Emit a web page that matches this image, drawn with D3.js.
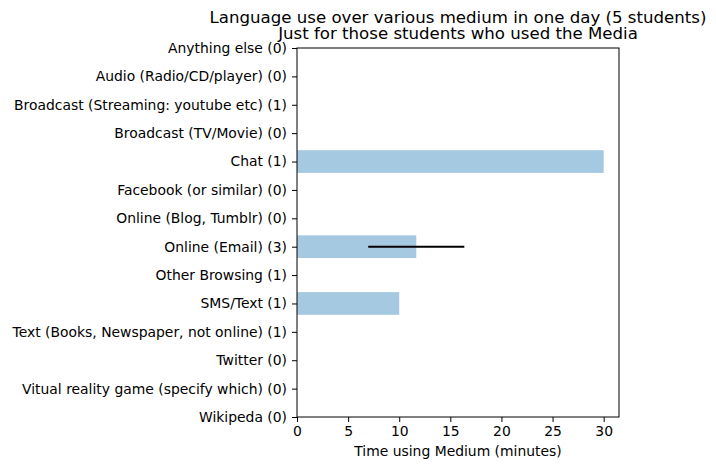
<!DOCTYPE html>
<html>
<head>
<meta charset="utf-8">
<script src="https://cdn.jsdelivr.net/npm/d3@7"></script>
<style>
  body { margin: 0; background: #fff; }
  text { font-family: "DejaVu Sans", sans-serif; fill: #000; }
</style>
</head>
<body>
<div id="chart"></div>
<script>
const categories = [
  "Anything else (0)",
  "Audio (Radio/CD/player) (0)",
  "Broadcast (Streaming: youtube etc) (1)",
  "Broadcast (TV/Movie) (0)",
  "Chat (1)",
  "Facebook (or similar) (0)",
  "Online (Blog, Tumblr) (0)",
  "Online (Email) (3)",
  "Other Browsing (1)",
  "SMS/Text (1)",
  "Text (Books, Newspaper, not online) (1)",
  "Twitter (0)",
  "Vitual reality game (specify which) (0)",
  "Wikipeda (0)"
];
const minutes = [0, 0, 0, 0, 30, 0, 0, 11.67, 0, 10, 0, 0, 0, 0];
const errors = [0, 0, 0, 0, 0, 0, 0, 4.7, 0, 0, 0, 0, 0, 0];
const xTicks = [0, 5, 10, 15, 20, 25, 30];

const width = 716, height = 470;
const m = { left: 297, right: 619, top: 48, bottom: 417 };

const svg = d3.select("#chart").append("svg")
  .attr("width", width)
  .attr("height", height);

const x = d3.scaleLinear().domain([0, 31.5]).range([m.left, m.right]);
const y = d3.scalePoint().domain(categories).range([m.top, m.bottom]).padding(0);
const band = y.step() * 0.8;

// bars
svg.append("g").selectAll("rect")
  .data(categories)
  .join("rect")
  .attr("x", x(0))
  .attr("y", d => y(d) - band / 2)
  .attr("width", (d, i) => x(minutes[i]) - x(0))
  .attr("height", band)
  .attr("fill", "#a5c9e1");

// error bars (no caps)
const errRows = categories.map((c, i) => ({ c, v: minutes[i], e: errors[i] })).filter(d => d.e > 0);
svg.append("g").selectAll("line")
  .data(errRows)
  .join("line")
  .attr("x1", d => x(d.v - d.e))
  .attr("x2", d => x(d.v + d.e))
  .attr("y1", d => y(d.c))
  .attr("y2", d => y(d.c))
  .attr("stroke", "#000")
  .attr("stroke-width", 2);

// axes
const xAxis = svg.append("g")
  .attr("transform", `translate(0,${m.bottom})`)
  .call(d3.axisBottom(x).tickValues(xTicks).tickSize(5).tickPadding(4));
const yAxis = svg.append("g")
  .attr("transform", `translate(${m.left},0)`)
  .call(d3.axisLeft(y).tickSize(5).tickPadding(5));

[xAxis, yAxis].forEach(a => {
  a.select(".domain").remove();
  a.selectAll("text").style("font-size", "13.9px").style("font-family", "DejaVu Sans");
  a.selectAll("line").attr("stroke", "#000").attr("stroke-width", 1);
});

// frame
svg.append("rect")
  .attr("x", m.left).attr("y", m.top)
  .attr("width", m.right - m.left).attr("height", m.bottom - m.top)
  .attr("fill", "none").attr("stroke", "#000").attr("stroke-width", 1);

// labels
svg.append("text")
  .attr("x", (m.left + m.right) / 2).attr("y", 455.5)
  .attr("text-anchor", "middle").style("font-size", "13.9px")
  .text("Time using Medium (minutes)");

const title = svg.append("text")
  .attr("text-anchor", "middle").style("font-size", "16.6px");
title.append("tspan").attr("x", (m.left + m.right) / 2).attr("y", 22.5)
  .text("Language use over various medium in one day (5 students)");
title.append("tspan").attr("x", (m.left + m.right) / 2).attr("y", 39)
  .text("Just for those students who used the Media");
</script>
</body>
</html>
